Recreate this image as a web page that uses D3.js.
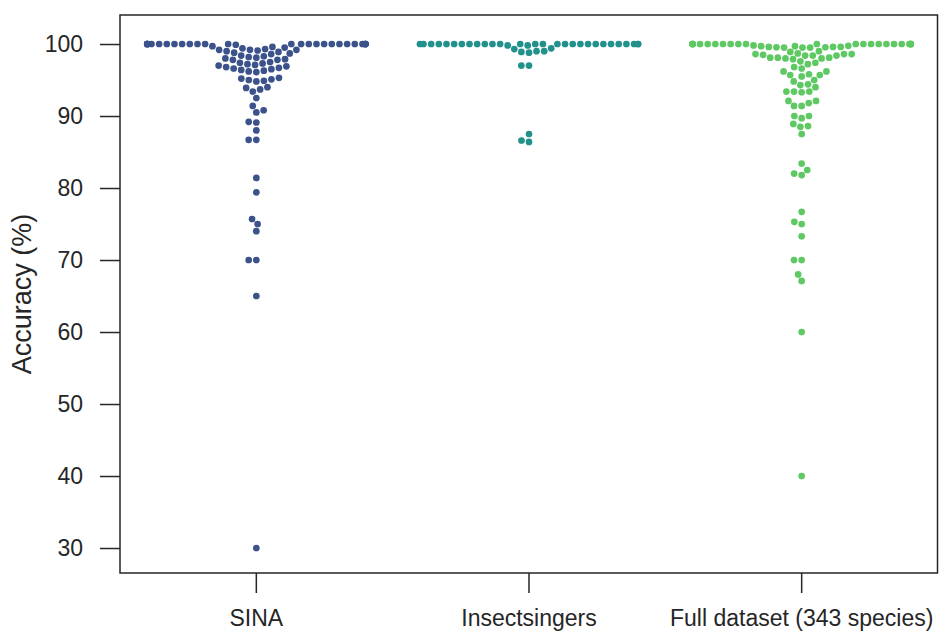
<!DOCTYPE html>
<html>
<head>
<meta charset="utf-8">
<script src="https://cdn.jsdelivr.net/npm/d3@7"></script>
<style>
  body { margin: 0; background: #fff; }
  text { font-family: "Liberation Sans", Arial, sans-serif; fill: #262626; }
</style>
</head>
<body>
<div id="chart"></div>
<script>
// frame size
const FRAME_WIDTH = 939;
const FRAME_HEIGHT = 635;
const MARGINS = {left: 120, right: 1, top: 15, bottom: 62};

// categories and tick labels
const CATEGORIES = ["SINA", "Insectsingers", "Full dataset (343 species)"];
const COLORS = ["#3b528b", "#21918c", "#5ec962"];
const Y_TICKS = [30, 40, 50, 60, 70, 80, 90, 100];

// accuracy per species
const sina = [
  100, 100, 100, 100, 100, 100, 100, 100, 100, 100, 100, 100, 100, 100,
  100, 100, 100, 100, 100, 100, 100, 100, 100, 100, 100, 100, 100, 100,
  99.9, 99.7, 99.6, 99.5, 99.4, 99.2, 99.2,
  99.3, 99.2, 99.1, 99.0, 98.9, 98.8, 98.7, 98.6,
  98.4, 98.3, 98.2, 98.1, 98.0, 97.9, 97.8, 97.8,
  97.5, 97.4, 97.3, 97.2,
  97.1, 97.0, 96.9, 96.8, 96.7, 96.6, 96.5, 96.4, 96.3, 96.2, 96.1,
  95.3, 95.2, 95.1, 95.0, 94.9, 94.8,
  94.0, 93.9, 93.7, 93.4,
  92.5, 91.4, 90.8, 90.5, 89.2, 89.1, 88.0, 86.7, 86.7,
  81.4, 79.4, 75.7, 75.0, 74.0, 70.0, 70.0, 65.0, 30.0
];
const insectsingers = [
  100, 100, 100, 100, 100, 100, 100, 100, 100, 100, 100, 100, 100, 100,
  100, 100, 100, 100, 100, 100, 100, 100, 100, 100, 100, 100, 100, 100,
  99.8, 99.8, 99.4, 99.3, 99.0, 99.0, 98.9, 98.8,
  97.0, 97.0, 87.5, 86.6, 86.4
];
const fullDataset = [
  100, 100, 100, 100, 100, 100, 100, 100, 100, 100, 100, 100, 100, 100,
  100, 100, 100, 100, 100, 100, 100, 100, 100, 100,
  99.8, 99.75, 99.7, 99.7, 99.6, 99.6, 99.6, 99.55, 99.55, 99.5, 99.5, 99.5,
  99.0, 98.9, 98.7, 98.6, 98.6, 98.6, 98.5, 98.4, 98.4, 98.4, 98.1, 98.1, 98.1, 98.0,
  98.0, 97.9, 97.6, 97.4, 97.2, 96.8, 96.6,
  96.2, 96.2, 95.8, 95.7, 95.7, 95.5,
  95.0, 94.8, 94.4, 94.3,
  94.0, 93.4, 93.4, 93.4, 93.3,
  92.1, 92.1, 91.8, 91.4, 91.4,
  90.0, 90.0, 89.7, 88.9, 88.6, 88.5, 87.5,
  83.4, 82.5, 82.0, 81.8, 76.7, 75.3, 75.0, 73.3,
  70.0, 70.0, 68.0, 67.1, 60.0, 40.0
];
const SERIES = [sina, insectsingers, fullDataset];

const svg = d3.select("#chart")
  .append("svg")
    .attr("width", FRAME_WIDTH)
    .attr("height", FRAME_HEIGHT);

// scales
const x = d3.scaleBand()
  .domain(CATEGORIES)
  .range([MARGINS.left, FRAME_WIDTH - MARGINS.right])
  .padding(0);

const y = d3.scaleLinear()
  .domain([26.53, 104.03])
  .range([FRAME_HEIGHT - MARGINS.bottom, MARGINS.top]);

// swarm layout, same idea as seaborn: sort by value, place each point
// at the closest spot to the midline that does not overlap
const R_SWARM = 3.65;
const R_DOT = 3.35;

function swarm(values, mid, halfWidth) {
  const pts = values.slice().sort((a, b) => a - b).map(v => ({v: v, x: mid, y: y(v)}));
  const placed = [pts[0]];
  const d = 2 * R_SWARM;
  for (let i = 1; i < pts.length; i++) {
    const p = pts[i];
    // neighbours close enough in y
    const nb = [];
    for (let j = placed.length - 1; j >= 0; j--) {
      if (Math.abs(p.y - placed[j].y) < d) nb.unshift(placed[j]);
      else break;
    }
    let cands = [mid];
    let leftFirst = true;
    nb.forEach(q => {
      const dy = p.y - q.y;
      const dx = Math.sqrt(Math.max(d * d - dy * dy, 0)) * 1.05;
      if (leftFirst) cands.push(q.x - dx, q.x + dx);
      else cands.push(q.x + dx, q.x - dx);
      leftFirst = !leftFirst;
    });
    cands = cands.map((c, k) => ({c: c, k: k}))
      .sort((a, b) => (Math.abs(a.c - mid) - Math.abs(b.c - mid)) || (a.k - b.k))
      .map(o => o.c);
    let chosen = mid;
    for (const c of cands) {
      const ok = nb.every(q => (q.x - c) ** 2 + (q.y - p.y) ** 2 >= d * d - 1e-6);
      if (ok) { chosen = c; break; }
    }
    p.x = chosen;
    placed.push(p);
  }
  // gutters
  placed.forEach(p => {
    if (p.x < mid - halfWidth) p.x = mid - halfWidth;
    if (p.x > mid + halfWidth) p.x = mid + halfWidth;
  });
  return placed;
}

// points
CATEGORIES.forEach((cat, i) => {
  const mid = x(cat) + x.bandwidth() / 2;
  const pts = swarm(SERIES[i], mid, x.bandwidth() * 0.4);
  svg.append("g")
    .selectAll("circle")
    .data(pts)
    .enter()
    .append("circle")
      .attr("cx", d => d.x)
      .attr("cy", d => d.y)
      .attr("r", R_DOT)
      .attr("fill", COLORS[i]);
});

// axes
const xAxis = svg.append("g")
  .attr("transform", "translate(0," + (FRAME_HEIGHT - MARGINS.bottom) + ")")
  .call(d3.axisBottom(x).tickSize(20).tickPadding(17).tickSizeOuter(0));

const yAxis = svg.append("g")
  .attr("transform", "translate(" + MARGINS.left + ",0)")
  .call(d3.axisLeft(y).tickValues(Y_TICKS).tickSize(20).tickPadding(17).tickSizeOuter(0));

[xAxis, yAxis].forEach(g => {
  g.select(".domain").remove();
  g.selectAll("line").attr("stroke", "#262626").attr("stroke-width", 1.5);
  g.selectAll("text").attr("font-size", 23).attr("fill", "#262626");
});

// frame
svg.append("rect")
  .attr("x", MARGINS.left)
  .attr("y", MARGINS.top)
  .attr("width", FRAME_WIDTH - MARGINS.left - MARGINS.right - 0.5)
  .attr("height", FRAME_HEIGHT - MARGINS.top - MARGINS.bottom)
  .attr("fill", "none")
  .attr("stroke", "#262626")
  .attr("stroke-width", 1.5);

// y label
svg.append("text")
  .attr("transform", "translate(31," + ((MARGINS.top + FRAME_HEIGHT - MARGINS.bottom) / 2) + ") rotate(-90)")
  .attr("text-anchor", "middle")
  .attr("font-size", 27)
  .text("Accuracy (%)");
</script>
</body>
</html>
